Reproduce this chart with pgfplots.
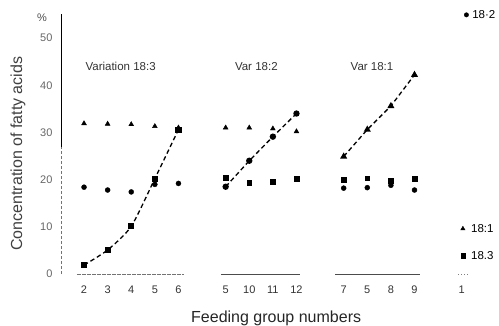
\documentclass[border=0pt]{standalone}
\usepackage{pgfplots}
\pgfplotsset{compat=1.18}
\usepackage{fontspec}
\setmainfont{Liberation Sans}
\begin{document}
\begin{tikzpicture}
\begin{axis}[
  scale only axis,
  width=412.4pt, height=259.6pt,
  xmin=-0.975, xmax=16.5,
  ymin=0, ymax=55,
  clip=false,
  axis line style={draw=none},
  tick style={draw=none},
  xtick={0,1,2,3,4,6,7,8,9,11,12,13,14,16},
  xticklabels={2,3,4,5,6,5,10,11,12,7,5,8,9,1},
  ytick={0,10,20,30,40,50},
  yticklabel style={font=\fontsize{11}{13}\selectfont, text=black!60, xshift=-5pt},
  xticklabel style={font=\fontsize{11}{13}\selectfont, text=black!80, yshift=-8pt},
  /pgf/number format/assume math mode=true,
]
% y axis line
\draw[black, line width=0.9pt] (axis cs:-0.975,27) -- (axis cs:-0.975,55);
\draw[black!55, line width=0.7pt, dash pattern=on 3pt off 2pt] (axis cs:-0.975,0) -- (axis cs:-0.975,27);
\node[text=black!70, font=\fontsize{11}{13}\selectfont] at (axis cs:-1.78,54.2) {\%};
% axis titles
\node[font=\fontsize{16}{18}\selectfont, text=black!85] at (axis cs:8.14,-9.4) {Feeding group numbers};
\node[font=\fontsize{16}{18}\selectfont, text=black!75, rotate=90] at (axis cs:-2.8,25.5) {Concentration of fatty acids};
% baselines
\addplot[black!55, line width=0.6pt, dash pattern=on 4pt off 1pt] coordinates {(-0.3,0) (4.25,0)};
\addplot[black!70, line width=0.6pt] coordinates {(5.8,0) (9.15,0)};
\addplot[black!70, line width=0.8pt] coordinates {(10.65,0) (14.25,0)};
\addplot[black!50, line width=0.6pt, dash pattern=on 1pt off 2pt] coordinates {(15.85,0) (16.35,0)};
% Group 1: Variation 18:3
\addplot[only marks, mark=triangle*, mark size=2.8pt, black] coordinates {(0,31.9) (1,31.8) (2,31.7) (3,31.3) (4,31.0)};
\addplot[only marks, mark=*, mark size=2.5pt, black] coordinates {(0,18.4) (1,17.8) (2,17.4) (3,19.0) (4,19.2)};
\addplot[black, line width=1.3pt, dash pattern=on 4.5pt off 3pt, smooth, tension=0.4, mark=square*, mark size=2.4pt, mark options={solid}] coordinates {(0,1.9) (1,5.1) (2,10.1) (3,20.2) (4,30.6)};
% Group 2: Var 18:2
\addplot[only marks, mark=triangle*, mark size=2.8pt, black] coordinates {(6,31.0) (7,31.0) (8,30.8) (9,30.2)};
\addplot[only marks, mark=square*, mark size=2.4pt, black] coordinates {(6,20.4) (7,19.3) (8,19.5) (9,20.2)};
\addplot[black, line width=1.3pt, dash pattern=on 4.5pt off 3pt, mark=*, mark size=2.5pt, mark options={solid}] coordinates {(6,18.5) (7,24.0) (8,29.1) (9,34.0)};
% Group 3: Var 18:1
\addplot[only marks, mark=square*, mark size=2.4pt, black] coordinates {(11,20.0) (12,20.3) (13,19.7) (14,20.2)};
\addplot[only marks, mark=*, mark size=2.5pt, black] coordinates {(11,18.2) (12,18.3) (13,18.8) (14,17.8)};
\addplot[black, line width=1.3pt, dash pattern=on 4.5pt off 3pt, mark=triangle*, mark size=2.8pt, mark options={solid}] coordinates {(11,24.9) (12,30.6) (13,35.6) (14,42.2)};
% Group 1 (control) with labels
\addplot[only marks, mark=*, mark size=2.2pt, black] coordinates {(16.2,54.9)};
\addplot[only marks, mark=triangle*, mark size=2.5pt, black] coordinates {(16.05,9.6)};
\addplot[only marks, mark=square*, mark size=2.1pt, black] coordinates {(16.05,3.9)};
\node[anchor=west, font=\fontsize{11.5}{13}\selectfont, inner sep=1pt] at (axis cs:16.4,54.9) {18·2};
\node[anchor=west, font=\fontsize{11.5}{13}\selectfont, inner sep=1pt] at (axis cs:16.35,9.6) {18:1};
\node[anchor=west, font=\fontsize{11.5}{13}\selectfont, inner sep=1pt] at (axis cs:16.35,3.9) {18.3};
% group titles
\node[font=\fontsize{11.5}{13}\selectfont, text=black!80] at (axis cs:1.55,43.9) {Variation 18:3};
\node[font=\fontsize{11.5}{13}\selectfont, text=black!80] at (axis cs:7.3,43.9) {Var 18:2};
\node[font=\fontsize{11.5}{13}\selectfont, text=black!80] at (axis cs:12.2,43.9) {Var 18:1};
\coordinate (bbsw) at (axis cs:-3.56,-10.8);
\coordinate (bbne) at (axis cs:17.58,58.05);
\end{axis}
\pgfresetboundingbox
\useasboundingbox (bbsw) rectangle (bbne);
\end{tikzpicture}
\end{document}
